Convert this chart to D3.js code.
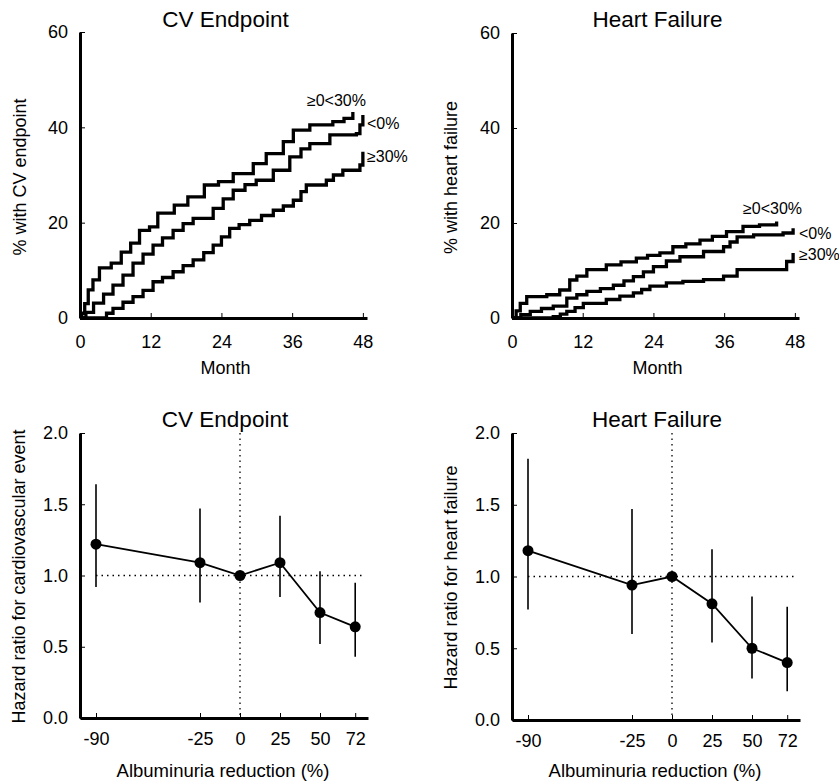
<!DOCTYPE html>
<html lang="en">
  <head>
    <meta charset="UTF-8" />
    <title>Albuminuria reduction and outcomes</title>
    <style>
      body { margin: 0; background: #fff; }
      svg { display: block; font-family: 'Liberation Sans', Arial, sans-serif; }
      .axis .domain { stroke: #000; stroke-width: 3; }
      .axis .tick line { stroke: #000; stroke-width: 1; }
      .axis .tick text { font-size: 18px; fill: #000; }
      .km { fill: none; stroke: #000; stroke-width: 3.3; stroke-linejoin: miter; }
      .dotref { stroke: #000; stroke-width: 1.3; stroke-dasharray: 1.5 4; }
    </style>
  </head>
  <body>
    <div id="chart"></div>

    <script src="https://d3js.org/d3.v7.min.js"></script>
    <script>
      // Kaplan-Meier curves, [month, percent]
      const cvTop = [[0,0],[0.3,1],[0.8,3],[1.4,5.9],[2.2,8],[3.3,10.5],[5.3,11.5],[7,13.8],[8.6,15.7],[10.1,18.4],[11.8,19.1],[13.2,22],[16,23.7],[18.3,25.4],[21.1,27.9],[23.5,28.6],[26,30.3],[29.4,32.4],[31.6,34.5],[34.5,37],[36.2,39.4],[39,40.5],[42.9,41.2],[44.8,41.9],[46.3,43.2]];
      const cvMid = [[0,0],[1,1.2],[2.3,3.1],[4,5],[5.6,6.9],[7.3,9],[9,11.5],[10.7,13.4],[12.4,15.3],[14,16.8],[15.8,18.4],[17.5,19.8],[19.2,20.9],[22.6,23],[24.3,25],[26,26.8],[28,28],[29.9,28.9],[32.8,31],[35.6,33.8],[37.5,35.5],[39,36.6],[42.4,38.4],[46.9,38.7],[47.5,40.5],[48,42.6]];
      const cvLow = [[0,0],[3.4,0],[4.5,1],[5.6,2],[7.3,3.3],[9,4.5],[10.7,5.8],[12.4,7.6],[14,8.5],[15.8,9.7],[17.5,11],[19.2,12.2],[21,13.7],[22.6,15.3],[24,17],[25.4,18.8],[27,19.6],[28.8,20.5],[30.8,21.5],[32.8,22.6],[34.5,23.5],[36.2,24.7],[37.5,26.5],[38.4,27.9],[41.8,28.9],[43,30],[44.6,31],[47.5,32.1],[48,34.9]];

      const hfTop = [[0,0],[0.7,1.5],[1.4,3.1],[2.5,4.5],[5.9,4.9],[8.1,5.9],[9.8,8],[11,8.8],[12.7,10.2],[16,11.2],[18.5,11.8],[21.1,12.6],[23,13.2],[25.1,13.7],[27.3,15],[29.5,15.6],[31.9,16.4],[34,17.2],[36.4,18.2],[39.2,19.3],[42,19.6],[44.9,20.3]];
      const hfMid = [[0,0],[1.5,0.7],[3.1,1.4],[5,2],[7,2.5],[9.3,4.2],[11,4.9],[12.7,5.6],[15,6.2],[17.2,6.9],[19,7.8],[20.6,8.7],[22.3,9.7],[24,10.8],[26.2,12],[28.5,12.9],[32.5,14],[35.9,15],[37,16],[38.2,17.1],[41,17.5],[46,17.9],[47.7,18.9]];
      const hfLow = [[0,0],[7,0.3],[8.2,0.8],[9.3,1.4],[10.7,2.2],[12.1,3.1],[16,3.9],[18.3,4.6],[20.6,5.3],[22,6],[23.4,6.7],[26.2,7.4],[29,7.7],[32.5,8.1],[35.9,8.8],[38.2,10.2],[46,10.2],[46.6,11.9],[47.7,13.7]];

      const groupLabels = ['≥0<30%', '<0%', '≥30%'];
      const monthTicks = [0, 12, 24, 36, 48];
      const pctTicks = [0, 20, 40, 60];

      // Hazard ratios by albuminuria reduction
      const reduction = [-90, -25, 0, 25, 50, 72];
      const cvHR = [1.22, 1.09, 1.0, 1.09, 0.74, 0.64];
      const cvLo = [0.92, 0.81, null, 0.85, 0.52, 0.43];
      const cvHi = [1.64, 1.47, null, 1.42, 1.03, 0.95];
      const hfHR = [1.18, 0.94, 1.0, 0.81, 0.5, 0.4];
      const hfLo = [0.77, 0.6, null, 0.54, 0.29, 0.2];
      const hfHi = [1.82, 1.47, null, 1.19, 0.86, 0.79];
      const hrTicks = [0, 0.5, 1.0, 1.5, 2.0];

      const svg = d3.select('#chart').append('svg')
        .attr('width', 839).attr('height', 783);

      function text(x, y, str, size, anchor, rotate) {
        const t = svg.append('text')
          .attr('font-size', size)
          .attr('text-anchor', anchor || 'middle')
          .text(str);
        if (rotate) t.attr('transform', `translate(${x},${y}) rotate(-90)`);
        else t.attr('x', x).attr('y', y);
        return t;
      }

      function axes(x, y, xTicks, yTicks, xFmt, yFmt, xPad, yPad) {
        svg.append('g').attr('class', 'axis')
          .attr('transform', `translate(0,${y.range()[0]})`)
          .call(d3.axisBottom(x).tickValues(xTicks).tickFormat(xFmt).tickSizeInner(-5).tickSizeOuter(0).tickPadding(xPad));
        svg.append('g').attr('class', 'axis')
          .attr('transform', `translate(${x.range()[0]},0)`)
          .call(d3.axisLeft(y).tickValues(yTicks).tickFormat(yFmt).tickSizeInner(-5).tickSizeOuter(0).tickPadding(yPad));
      }

      const plain = d => String(d);

      // Kaplan-Meier panel
      function kmPanel(x0, x1, yBottom, yTop, curves, labelPos, title, yLabel, yLabelX) {
        const x = d3.scaleLinear().domain([0, 48.7]).range([x0, x1]);
        const y = d3.scaleLinear().domain([0, 60]).range([yBottom, yTop]);
        const line = d3.line().x(d => x(d[0])).y(d => y(d[1])).curve(d3.curveStepAfter);

        curves.forEach(c => svg.append('path').attr('class', 'km').attr('d', line(c)));
        axes(x, y, monthTicks, pctTicks, plain, plain, 17, 12);

        groupLabels.forEach((g, i) => {
          text(x(labelPos[i][0]), y(labelPos[i][1]), g, 16, 'start');
        });
        text((x0 + x1) / 2 + 2, 27, title, 22.5);
        text((x0 + x1) / 2 + 2, 374, 'Month', 18);
        text(yLabelX, (yBottom + yTop) / 2 + 2, yLabel, 18, 'middle', true);
      }

      // Hazard ratio panel
      function hrPanel(x0, x1, yBottom, yTop, hr, lo, hi, title, yLabel, yLabelX) {
        const x = d3.scaleLinear().domain([-100, 80]).range([x0, x1]);
        const y = d3.scaleLinear().domain([0, 2]).range([yBottom, yTop]);

        svg.append('line').attr('class', 'dotref')
          .attr('x1', x(-90)).attr('x2', x(78)).attr('y1', y(1)).attr('y2', y(1));
        svg.append('line').attr('class', 'dotref')
          .attr('x1', x(0)).attr('x2', x(0)).attr('y1', y(2)).attr('y2', y(0));

        axes(x, y, reduction, hrTicks, plain, d3.format('.1f'), 14, 12);

        reduction.forEach((r, i) => {
          if (lo[i] == null) return;
          svg.append('line').attr('stroke', '#000').attr('stroke-width', 1.6)
            .attr('x1', x(r)).attr('x2', x(r)).attr('y1', y(lo[i])).attr('y2', y(hi[i]));
        });

        const line = d3.line().x((d, i) => x(reduction[i])).y(d => y(d));
        svg.append('path').attr('d', line(hr))
          .attr('fill', 'none').attr('stroke', '#000').attr('stroke-width', 1.8);
        svg.selectAll(null).data(hr).enter().append('circle')
          .attr('cx', (d, i) => x(reduction[i])).attr('cy', d => y(d)).attr('r', 5.5).attr('fill', '#000');

        text((x0 + x1) / 2 + 1, 427, title, 22.5);
        text((x0 + x1) / 2 - 1, 777, 'Albuminuria reduction (%)', 18.5);
        text(yLabelX, (yBottom + yTop) / 2 + 1, yLabel, 18, 'middle', true);
      }

      kmPanel(80, 367, 318, 32, [cvTop, cvMid, cvLow],
        [[38.5, 44.5], [48.7, 39.6], [48.7, 32.8]],
        'CV Endpoint', '% with CV endpoint', 26);
      kmPanel(512, 799, 318, 33, [hfTop, hfMid, hfLow],
        [[39.2, 21.9], [48.7, 16.6], [48.7, 12.2]],
        'Heart Failure', '% with heart failure', 457);

      hrPanel(80, 368, 718, 433, cvHR, cvLo, cvHi, 'CV Endpoint', 'Hazard ratio for cardiovascular event', 25);
      hrPanel(512, 800, 720, 433, hfHR, hfLo, hfHi, 'Heart Failure', 'Hazard ratio for heart failure', 457);
    </script>
  </body>
</html>
